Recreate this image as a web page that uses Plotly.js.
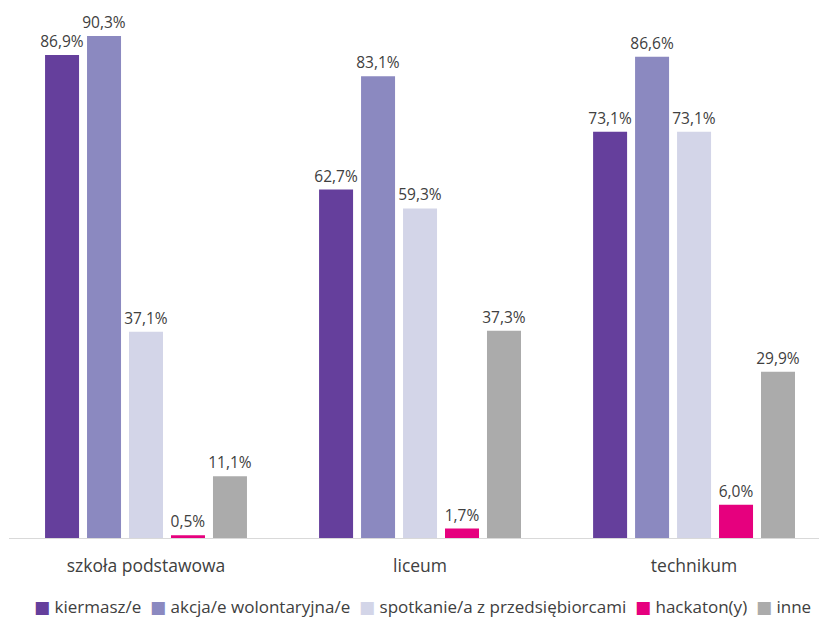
<!DOCTYPE html>
<html><head><meta charset="utf-8">
<script src="https://cdn.plot.ly/plotly-3.0.1.min.js"></script>
<style>html,body{margin:0;padding:0;background:#fff}#chart{width:819px;height:619px}</style>
</head><body><div id="chart"></div>
<script>
const categories = ['szkoła podstawowa', 'liceum', 'technikum'];
const seriesNames = ['kiermasz/e', 'akcja/e wolontaryjna/e', 'spotkanie/a z przedsiębiorcami', 'hackaton(y)', 'inne'];
const kiermasz = [86.9, 62.7, 73.1];
const akcja = [90.3, 83.1, 86.6];
const spotkanie = [37.1, 59.3, 73.1];
const hackaton = [0.5, 1.7, 6.0];
const inne = [11.1, 37.3, 29.9];
const colors = ['#653F9C', '#8B89C0', '#D3D5E8', '#E6007E', '#ABABAB'];
const values = [kiermasz, akcja, spotkanie, hackaton, inne];

const traces = values.map((v, i) => ({
  type: 'bar', x: categories, y: v, name: seriesNames[i],
  marker: {color: colors[i]},
  texttemplate: '%{y:.1f}%', textposition: 'outside', cliponaxis: false,
  constraintext: 'none',
  textfont: {family: 'Open Sans', size: 15.5, color: '#404040'},
  hoverinfo: 'skip'
}));

const legendText = seriesNames.map((n, i) =>
  `<span style="color:${colors[i]};font-family:DejaVu Sans">■</span> ${n}`).join('  ');

const layout = {
  width: 819, height: 619,
  margin: {l: 9, r: 0, t: 10, b: 81},
  separators: ', ',
  barmode: 'group', bargap: 0.234, bargroupgap: 0.19,
  paper_bgcolor: '#fff', plot_bgcolor: '#fff',
  font: {family: 'Open Sans', color: '#404040', size: 15},
  xaxis: {range: [-0.5, 2.456], showline: true, linecolor: '#D9D9D9', linewidth: 1,
    ticks: '', ticklabelstandoff: 12, tickfont: {size: 17.5, color: '#404040'}},
  yaxis: {range: [0, 95], visible: false, showgrid: false, zeroline: false},
  showlegend: false,
  annotations: [{xref: 'paper', yref: 'paper', x: 0.51, y: -0.129, xanchor: 'center', yanchor: 'middle',
    text: legendText, showarrow: false, font: {family: 'Open Sans', size: 17, color: '#404040'}}]
};
Plotly.newPlot('chart', traces, layout, {displayModeBar: false});
</script></body></html>
